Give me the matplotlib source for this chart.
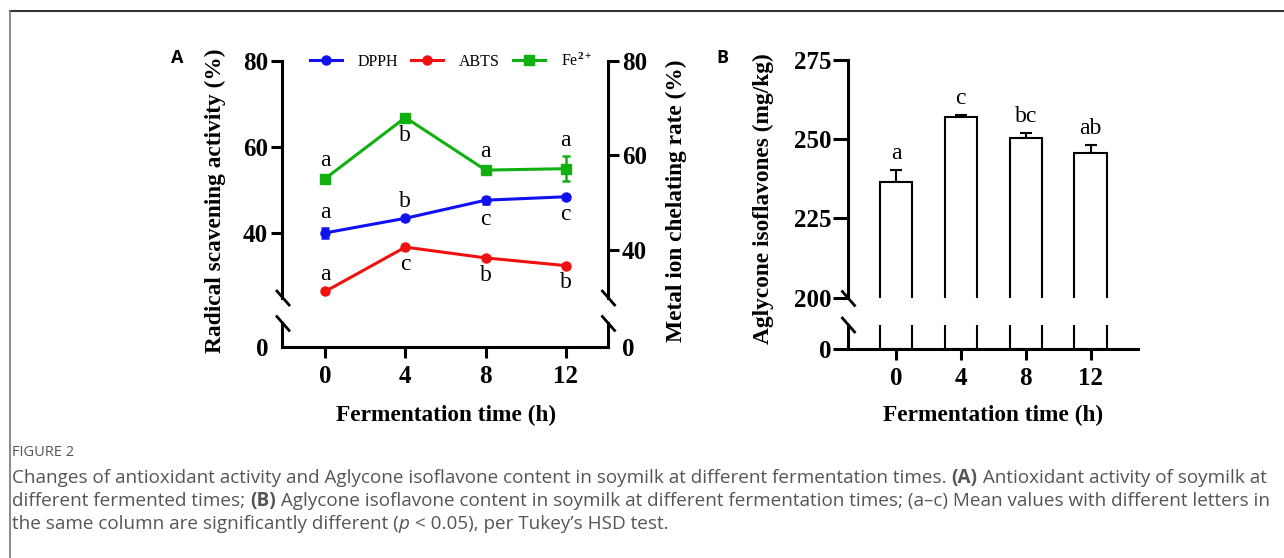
import matplotlib
matplotlib.use("Agg")
import matplotlib.pyplot as plt
from matplotlib.lines import Line2D
import numpy as np

# ---------------- data ----------------
times = [0, 4, 8, 12]
time_labels = ["0", "4", "8", "12"]

dpph = [40.0, 43.4, 47.6, 48.4]
dpph_err = [1.2, 0.4, 0.8, 0.5]
dpph_letters = ["a", "b", "c", "c"]
dpph_pos = ["above", "above", "below", "below"]

abts = [26.4, 36.7, 34.2, 32.4]
abts_err = [0.3, 0.4, 0.4, 0.3]
abts_letters = ["a", "c", "b", "b"]
abts_pos = ["above", "below", "below", "below"]

fe = [55.1, 68.0, 56.9, 57.2]
fe_err = [0.5, 0.5, 0.6, 2.7]
fe_letters = ["a", "b", "a", "a"]
fe_pos = ["above", "below", "above", "above"]

aglycone = [236.5, 257.0, 250.4, 245.5]
aglycone_err = [3.8, 0.5, 1.5, 2.7]
aglycone_letters = ["a", "c", "bc", "ab"]

# ---------------- style ----------------
W, H = 1284, 558
plt.rcParams["font.family"] = ["Liberation Serif", "DejaVu Serif"]
plt.rcParams["font.weight"] = "bold"
plt.rcParams["mathtext.fontset"] = "custom"
plt.rcParams["mathtext.rm"] = "Liberation Serif"
plt.rcParams["mathtext.it"] = "Liberation Serif:italic"
plt.rcParams["mathtext.bf"] = "Liberation Serif:bold"
SANS = ["Open Sans", "Noto Sans", "DejaVu Sans"]
BLUE, RED, GREEN = "#1010F0", "#F01010", "#10B010"
SPINE_LW = 2.2
TICK_FS = 18
LABEL_FS = 16.8
LETTER_FS = 17

fig = plt.figure(figsize=(W / 100, H / 100), dpi=100)


def box(x0, y0, x1, y1):
    return [x0 / W, 1 - y1 / H, (x1 - x0) / W, (y1 - y0) / H]


def fx(x):
    return x / W


def fy(y):
    return 1 - y / H


def style_ticks(ax, axis="both"):
    ax.tick_params(axis=axis, width=SPINE_LW, length=8, labelsize=TICK_FS, pad=2)


# ================= Panel A =================
xl_A = (-2.15, 14.1)
axAt = fig.add_axes(box(282, 60.7, 608, 297.5))
axAt.set_xlim(*xl_A)
axAt.set_ylim(25, 80)
axAt.patch.set_alpha(0)
for s in ["top", "bottom", "right"]:
    axAt.spines[s].set_visible(False)
axAt.spines["left"].set_linewidth(SPINE_LW)
axAt.set_xticks([])
axAt.set_yticks([40, 60, 80])
style_ticks(axAt)

axAr = axAt.twinx()
axAr.set_ylim(30, 80)
for s in ["top", "bottom", "left"]:
    axAr.spines[s].set_visible(False)
axAr.spines["right"].set_linewidth(SPINE_LW)
axAr.set_yticks([40, 60, 80])
style_ticks(axAr)

axAb = fig.add_axes(box(282, 323, 608, 347.3))
axAb.set_xlim(*xl_A)
axAb.set_ylim(0, 1)
axAb.spines["top"].set_visible(False)
for s in ["left", "right", "bottom"]:
    axAb.spines[s].set_linewidth(SPINE_LW)
axAb.set_xticks(times)
axAb.set_xticklabels(time_labels)
axAb.set_yticks([0])
style_ticks(axAb)
axAb.tick_params(axis="y", length=0, pad=10, labelright=True, right=True)
axAb.tick_params(axis="x", pad=5)

line_kw = dict(lw=2.2, capsize=3, capthick=1.8, elinewidth=1.8)
axAt.errorbar(times, dpph, yerr=dpph_err, color=BLUE, marker="o", ms=6.5, **line_kw)
axAt.errorbar(times, abts, yerr=abts_err, color=RED, marker="o", ms=6.5, **line_kw)
axAr.errorbar(times, fe, yerr=fe_err, color=GREEN, marker="s", ms=6.5, **line_kw)


def put_letters(ax, vals, errs, letters, pos):
    for x, v, e, t, p in zip(times, vals, errs, letters, pos):
        if p == "above":
            ax.annotate(t, xy=(x, v + e), xytext=(0, 11), textcoords="offset points",
                        ha="center", va="center", fontsize=LETTER_FS, fontweight="normal")
        else:
            ax.annotate(t, xy=(x, v - e), xytext=(0, -11.5), textcoords="offset points",
                        ha="center", va="center", fontsize=LETTER_FS, fontweight="normal")


put_letters(axAt, dpph, dpph_err, dpph_letters, dpph_pos)
put_letters(axAt, abts, abts_err, abts_letters, abts_pos)
put_letters(axAr, fe, fe_err, fe_letters, fe_pos)

leg_handles = [
    Line2D([], [], color=BLUE, marker="o", lw=2.2, ms=6.5),
    Line2D([], [], color=RED, marker="o", lw=2.2, ms=6.5),
    Line2D([], [], color=GREEN, marker="s", lw=2.2, ms=6.5),
]
fig.legend(leg_handles, ["DPPH", "ABTS", "Fe$^{2+}$"], loc="center",
           bbox_to_anchor=(fx(451), fy(61)), ncol=3, frameon=False,
           prop={"size": 11.5, "weight": "normal"},
           handlelength=2.0, handletextpad=1.0, columnspacing=0.8,
           borderpad=0, borderaxespad=0)

fig.text(fx(215), fy(201), "Radical scavening activity (%)", rotation=90,
         ha="center", va="center", fontsize=LABEL_FS)
fig.text(fx(676), fy(201), "Metal ion chelating rate (%)", rotation=90,
         ha="center", va="center", fontsize=LABEL_FS)
fig.text(fx(446), fy(415), "Fermentation time (h)", ha="center", va="center",
         fontsize=LABEL_FS)
fig.text(fx(177), fy(58), "A", ha="center", va="center", fontsize=13,
         fontweight="bold", family=SANS)

# ================= Panel B =================
cats = np.arange(len(times))
xl_B = (-0.732, 3.73)
axBt = fig.add_axes(box(848.5, 60, 1138, 297.7))
axBt.set_xlim(*xl_B)
axBt.set_ylim(200, 275)
axBt.patch.set_alpha(0)
for s in ["top", "bottom", "right"]:
    axBt.spines[s].set_visible(False)
axBt.spines["left"].set_linewidth(SPINE_LW)
axBt.set_xticks([])
axBt.set_yticks([200, 225, 250, 275])
style_ticks(axBt)
axBt.tick_params(axis="y", length=11, pad=1)

axBb = fig.add_axes(box(848.5, 325, 1138, 349.3))
axBb.set_xlim(*xl_B)
axBb.set_ylim(0, 1)
axBb.patch.set_alpha(0)
for s in ["top", "right"]:
    axBb.spines[s].set_visible(False)
for s in ["left", "bottom"]:
    axBb.spines[s].set_linewidth(SPINE_LW)
axBb.set_xticks(cats)
axBb.set_xticklabels(time_labels)
axBb.set_yticks([0])
style_ticks(axBb)
axBb.tick_params(axis="y", length=11, pad=1)
axBb.tick_params(axis="x", pad=5)

for ax in (axBt, axBb):
    ax.bar(cats, aglycone, width=0.5, color="white", edgecolor="black", lw=1.5, zorder=2)
axBt.errorbar(cats, aglycone, yerr=[np.zeros(len(aglycone)), aglycone_err], fmt="none",
              ecolor="black", elinewidth=1.5, capsize=4, capthick=1.5, zorder=1)
for c, v, e, t in zip(cats, aglycone, aglycone_err, aglycone_letters):
    axBt.annotate(t, xy=(c, v + e), xytext=(0, 12), textcoords="offset points",
                  ha="center", va="center", fontsize=LETTER_FS, fontweight="normal")

fig.text(fx(763), fy(199), "Aglycone isoflavones (mg/kg)", rotation=90,
         ha="center", va="center", fontsize=LABEL_FS)
fig.text(fx(993), fy(415), "Fermentation time (h)", ha="center", va="center",
         fontsize=LABEL_FS)
fig.text(fx(722), fy(58), "B", ha="center", va="center", fontsize=13,
         fontweight="bold", family=SANS)

# ---------------- break marks ----------------
def slash(xc, yc, dx=7, dy=8):
    fig.add_artist(Line2D([fx(xc - dx), fx(xc + dx)], [fy(yc - dy), fy(yc + dy)],
                          color="black", lw=2.0, solid_capstyle="butt"))


for yc in (298, 323.5):
    slash(283, yc)
    slash(608.5, yc)
for yc in (298.5, 325):
    slash(848.5, yc)

# ---------------- frame ----------------
fig.add_artist(Line2D([fx(10), 1], [fy(11), fy(11)], color="#333333", lw=1.5))
fig.add_artist(Line2D([fx(10), fx(10)], [fy(11), 0], color="#777777", lw=1.2))

# ---------------- caption ----------------
fig.text(fx(12), fy(452), "FIGURE 2", ha="left", va="center", fontsize=10.5,
         color="#555555", family=SANS, fontweight="normal")

cap_lines = [
    [("Changes of antioxidant activity and Aglycone isoflavone content in soymilk at different fermentation times. ", "normal", "normal"),
     ("(A)", "bold", "normal"),
     (" Antioxidant activity of soymilk at", "normal", "normal")],
    [("different fermented times; ", "normal", "normal"),
     ("(B)", "bold", "normal"),
     (" Aglycone isoflavone content in soymilk at different fermentation times; (a\u2013c) Mean values with different letters in", "normal", "normal")],
    [("the same column are significantly different (", "normal", "normal"),
     ("p", "normal", "italic"),
     (" < 0.05), per Tukey\u2019s HSD test.", "normal", "normal")],
]
cap_y = [478, 501, 524]

renderer = fig.canvas.get_renderer()
base_fs = 11.0


def line_width(runs, fs):
    tot = 0
    for txt, wt, st in runs:
        t = fig.text(0, 0, txt, fontsize=fs, fontweight=wt, fontstyle=st, family=SANS)
        tot += t.get_window_extent(renderer).width
        t.remove()
    return tot


w0 = line_width(cap_lines[0], base_fs)
cap_fs = base_fs * (1255 / w0)

for runs, yy in zip(cap_lines, cap_y):
    x = 12
    for txt, wt, st in runs:
        t = fig.text(fx(x), fy(yy), txt, fontsize=cap_fs, fontweight=wt, fontstyle=st,
                     family=SANS, color="#555555", ha="left", va="center")
        x += t.get_window_extent(renderer).width

fig.savefig("out.png", dpi=100)
